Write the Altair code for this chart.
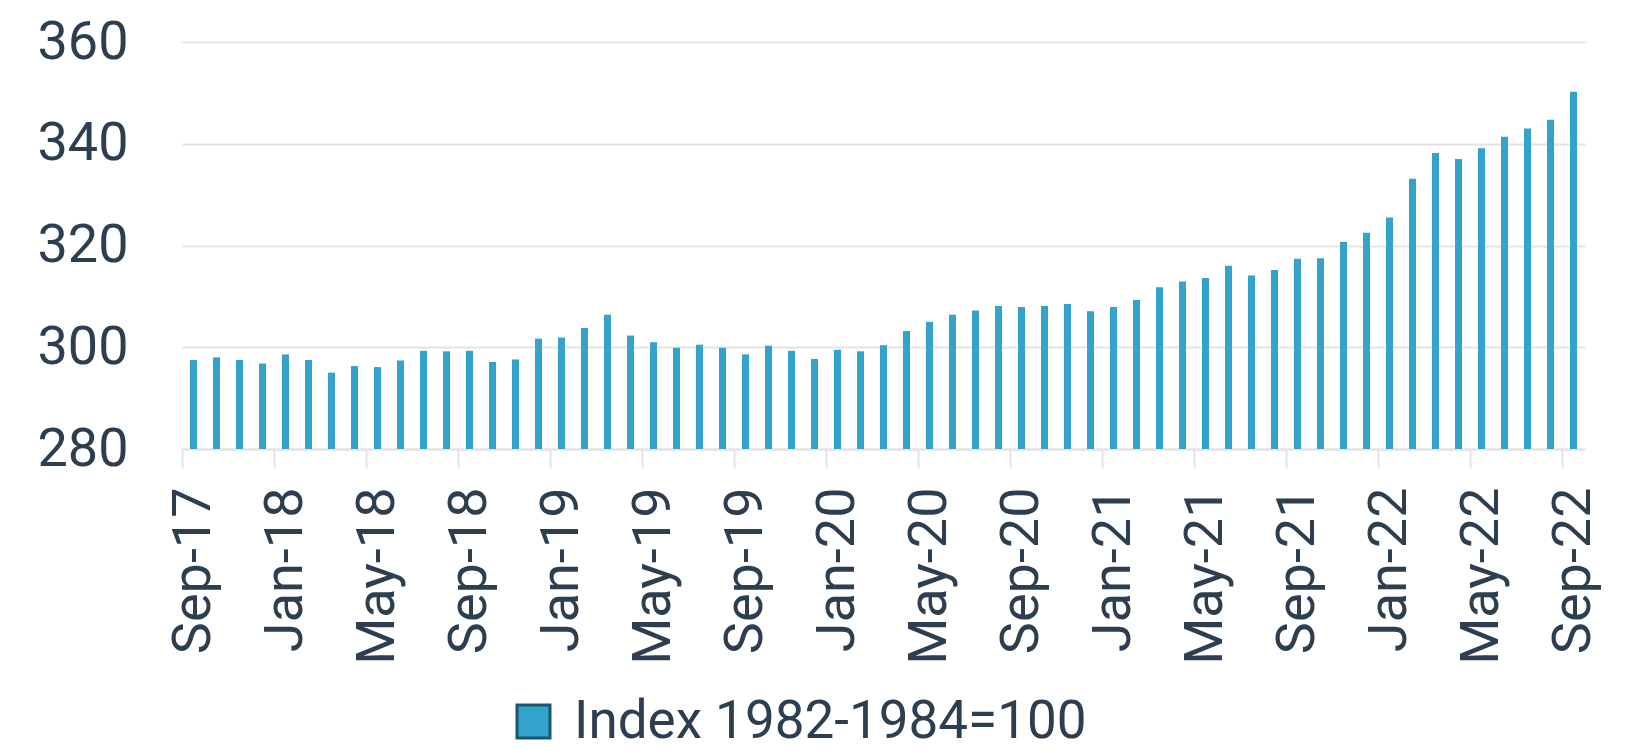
import altair as alt
import pandas as pd

month_names = ["Jan", "Feb", "Mar", "Apr", "May", "Jun",
               "Jul", "Aug", "Sep", "Oct", "Nov", "Dec"]
years = ["17", "18", "19", "20", "21", "22"]

# Monthly categories Sep-17 .. Sep-22
months = []
for yi, yy in enumerate(years):
    for mi, mn in enumerate(month_names):
        if (yi == 0 and mi < 8) or (yi == len(years) - 1 and mi > 8):
            continue
        months.append(f"{mn}-{yy}")

values = [
    297.5, 298.0, 297.5, 296.8, 298.6, 297.5, 295.0, 296.3, 296.1, 297.4,
    299.3, 299.2, 299.3, 297.1, 297.6, 301.7, 301.9, 303.8, 306.4, 302.3,
    301.0, 299.9, 300.5, 299.9, 298.6, 300.3, 299.3, 297.7, 299.5, 299.2,
    300.4, 303.2, 305.0, 306.4, 307.2, 308.1, 307.9, 308.1, 308.5, 307.1,
    307.9, 309.3, 311.8, 312.9, 313.6, 316.0, 314.1, 315.2, 317.4, 317.5,
    320.7, 322.5, 325.5, 333.1, 338.2, 337.0, 339.1, 341.4, 343.0, 344.7,
    350.2,
]

tick_labels = months[::4]
y_ticks = [280, 300, 320, 340, 360]
series_name = "Index 1982-1984=100"

df = pd.DataFrame({"month": months, "value": values, "series": series_name})

FONT = "Roboto"
TEXT = "#2d3e50"
BAR = "#33a3cc"
GRID = "#e4e4e4"

chart = (
    alt.Chart(df)
    .mark_bar(size=7)
    .encode(
        x=alt.X(
            "month:N",
            sort=months,
            title=None,
            scale=alt.Scale(paddingInner=0, paddingOuter=0),
            axis=alt.Axis(
                values=tick_labels,
                labelAngle=270,
                labelFontSize=54,
                labelFont=FONT,
                labelColor=TEXT,
                labelPadding=20,
                labelOverlap=False,
                tickSize=18,
                tickColor=GRID,
                tickWidth=2,
                domainColor=GRID,
                domainWidth=2,
                bandPosition=0,
                grid=False,
            ),
        ),
        y=alt.Y(
            "value:Q",
            title=None,
            scale=alt.Scale(domain=[280, 360], zero=False, nice=False),
            axis=alt.Axis(
                values=y_ticks,
                labelFontSize=54,
                labelFont=FONT,
                labelColor=TEXT,
                labelPadding=54,
                ticks=False,
                domain=False,
                grid=True,
                gridColor=GRID,
                gridWidth=2,
            ),
        ),
        y2=alt.datum(280),
        color=alt.Color(
            "series:N",
            scale=alt.Scale(range=[BAR]),
            legend=alt.Legend(
                title=None,
                orient="none",
                legendX=325,
                legendY=653,
                direction="horizontal",
                padding=0,
                labelFontSize=53,
                labelFont=FONT,
                labelColor=TEXT,
                labelOffset=14,
                labelLimit=2000,
                symbolType="square",
                symbolSize=1089,
                symbolStrokeColor="#1d5670",
                symbolStrokeWidth=3,
            ),
        ),
    )
    .properties(
        width=1403,
        height=407,
        padding={"left": 174, "top": 34, "right": 40, "bottom": 302},
        autosize=alt.AutoSizeParams(type="none"),
    )
    .configure_view(stroke=None)
)

chart.save("out.html", embed_options={"renderer": "svg", "actions": False})
